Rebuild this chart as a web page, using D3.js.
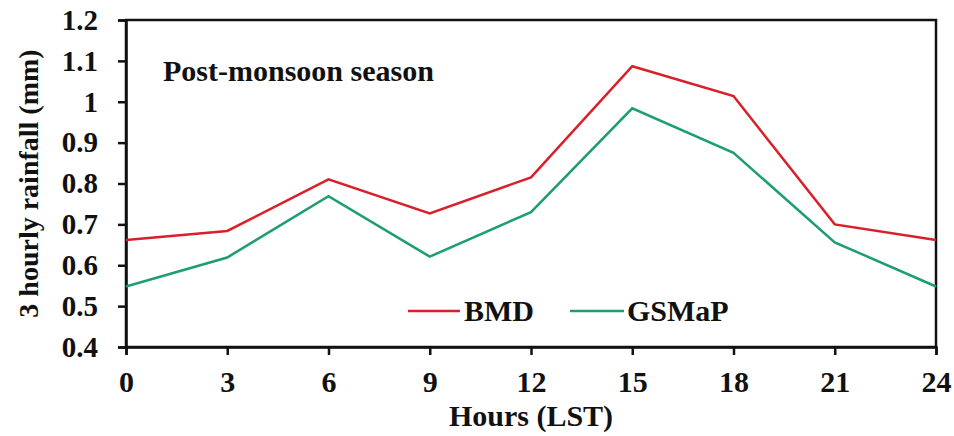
<!DOCTYPE html>
<html><head><meta charset="utf-8">
<script src="https://cdn.jsdelivr.net/npm/d3@7"></script>
<style>body{margin:0;background:#fff}svg{display:block}text{font-family:"Liberation Serif","Times New Roman",serif;font-weight:bold;fill:#111}</style>
</head><body><svg id="c" width="954" height="436"></svg>
<script>
const hours = [0,3,6,9,12,15,18,21,24];
const bmd = [0.662,0.684,0.810,0.727,0.815,1.087,1.014,0.700,0.662];
const gsmap = [0.548,0.619,0.769,0.621,0.730,0.984,0.875,0.656,0.548];
const yTicks = [0.4,0.5,0.6,0.7,0.8,0.9,1,1.1,1.2];
const seriesNames = ["BMD","GSMaP"];
const colors = ["#d9202a","#1d9e72"];

const svg = d3.select("#c");
const m = {l:126,r:936,t:20,b:347};
const x = d3.scaleLinear().domain([0,24]).range([m.l,m.r]);
const y = d3.scaleLinear().domain([0.4,1.2]).range([m.b,m.t]);

// frame
svg.append("rect").attr("x",m.l).attr("y",m.t).attr("width",m.r-m.l).attr("height",m.b-m.t)
  .attr("fill","none").attr("stroke","#111").attr("stroke-width",2.5);

const xa = svg.append("g").attr("transform",`translate(0,${m.b})`)
  .call(d3.axisBottom(x).tickValues(hours).tickSize(8).tickPadding(16).tickFormat(d3.format("d")));
const ya = svg.append("g").attr("transform",`translate(${m.l},0)`)
  .call(d3.axisLeft(y).tickValues(yTicks).tickSize(8).tickPadding(20).tickFormat(d=>String(+d.toFixed(1))));
[xa,ya].forEach(g=>{
  g.select(".domain").attr("stroke","#111").attr("stroke-width",2.5);
  g.selectAll(".tick line").attr("stroke","#111").attr("stroke-width",2.5);
  g.selectAll(".tick text").style("font-family","'Liberation Serif',serif").style("font-weight","bold").attr("fill","#111");
});
xa.selectAll(".tick text").style("font-size","30px");
ya.selectAll(".tick text").style("font-size","29px");

const line = d3.line().x((d,i)=>x(hours[i])).y(d=>y(d));
[bmd,gsmap].forEach((s,i)=>{
  svg.append("path").datum(s).attr("d",line).attr("fill","none")
    .attr("stroke",colors[i]).attr("stroke-width",2.5).attr("stroke-linejoin","miter");
});

svg.append("text").attr("x",163).attr("y",81).style("font-size","30px").text("Post-monsoon season");

// legend
const leg = [{x1:408,x2:460,tx:464},{x1:570,x2:624,tx:627}];
seriesNames.forEach((n,i)=>{
  svg.append("line").attr("x1",leg[i].x1).attr("x2",leg[i].x2).attr("y1",311).attr("y2",311)
    .attr("stroke",colors[i]).attr("stroke-width",2.5);
  svg.append("text").attr("x",leg[i].tx).attr("y",321).style("font-size","30px").text(n);
});

svg.append("text").attr("x",531).attr("y",426).attr("text-anchor","middle").style("font-size","30px").text("Hours (LST)");
svg.append("text").attr("transform",`translate(38,${(m.t+m.b)/2}) rotate(-90)`).attr("text-anchor","middle")
  .style("font-size","28px").text("3 hourly rainfall (mm)");
</script></body></html>
